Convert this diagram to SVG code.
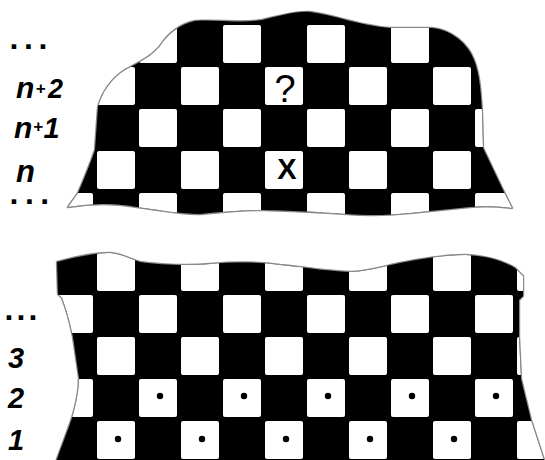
<svg xmlns="http://www.w3.org/2000/svg" xmlns:xlink="http://www.w3.org/1999/xlink" width="545" height="460" viewBox="0 0 545 460">
<style>
.edge{fill:none;stroke:#8a8a8a;stroke-width:2.4;stroke-linejoin:round}
.ink{fill:#000}
.w{fill:#fff}
.dot{fill:#000}
.lbl{font-family:"Liberation Sans",Arial,sans-serif;font-style:italic;font-weight:bold;fill:#000}
.dots{font-family:"Liberation Sans",Arial,sans-serif;font-weight:bold;font-size:32px;fill:#000}
.mark{font-family:"Liberation Sans",Arial,sans-serif;fill:#000;text-anchor:middle}
</style>
<defs>
<rect id="sq" width="38" height="38" rx="2"/>
<path id="outlineTop" d="M68,207 L78,193 Q88,170 95,150 L98,107 C102,92 112,78 125,70 C140,62 152,56 160,46 C168,34 180,24 195,21 C215,19 240,24 262,20 C280,16 295,11 310,12 C335,15 360,26 390,28 L432,28 C452,30 468,44 474,60 C480,75 481,95 482,112 L483,148 L503,190 L512,208 C495,206 480,206 470,207 C450,209 430,211 410,213 C390,215 370,216 347,214 C320,212 300,211 263,210 C240,210 222,212 200,214 C180,214 160,210 137,207 C120,204 100,202 68,207 Z"/>
<path id="outlineBottom" d="M57,262 C75,257 95,253 110,253 C122,254 130,259 140,262 C160,265 190,266 210,264 C235,262 260,262 280,265 C310,268 335,272 352,272 C370,271 385,266 400,263 C420,259 445,255 465,255 C490,256 505,262 515,268 L523,276 L523,296 L519,300 L519,337 L521,379 L531,420 L544,460 L546,472 L50,472 L56,462 C62,445 68,430 72,418 C76,405 79,390 79,378 C77,365 75,350 73,337 C70,322 66,308 62,298 L58,294 Z"/>
<clipPath id="clipTop"><use xlink:href="#outlineTop"/></clipPath>
<clipPath id="clipBottom"><use xlink:href="#outlineBottom"/></clipPath>
</defs>
<rect width="545" height="460" fill="#fff"/>

<g id="board-top">
<use xlink:href="#outlineTop" class="edge"/>
<g clip-path="url(#clipTop)">
<rect class="ink" x="40" y="0" width="490" height="240"/>
<g class="w">
<use xlink:href="#sq" x="55" y="25"/><use xlink:href="#sq" x="139" y="25"/><use xlink:href="#sq" x="223" y="25"/><use xlink:href="#sq" x="307" y="25"/><use xlink:href="#sq" x="391" y="25"/><use xlink:href="#sq" x="475" y="25"/>
<use xlink:href="#sq" x="97" y="67"/><use xlink:href="#sq" x="181" y="67"/><use xlink:href="#sq" x="265" y="67"/><use xlink:href="#sq" x="349" y="67"/><use xlink:href="#sq" x="433" y="67"/>
<use xlink:href="#sq" x="55" y="109"/><use xlink:href="#sq" x="139" y="109"/><use xlink:href="#sq" x="223" y="109"/><use xlink:href="#sq" x="307" y="109"/><use xlink:href="#sq" x="391" y="109"/><use xlink:href="#sq" x="475" y="109"/>
<use xlink:href="#sq" x="97" y="151"/><use xlink:href="#sq" x="181" y="151"/><use xlink:href="#sq" x="265" y="151"/><use xlink:href="#sq" x="349" y="151"/><use xlink:href="#sq" x="433" y="151"/>
<use xlink:href="#sq" x="55" y="193"/><use xlink:href="#sq" x="139" y="193"/><use xlink:href="#sq" x="223" y="193"/><use xlink:href="#sq" x="307" y="193"/><use xlink:href="#sq" x="391" y="193"/><use xlink:href="#sq" x="475" y="193"/>
</g>
</g>
</g>

<g id="board-bottom">
<use xlink:href="#outlineBottom" class="edge"/>
<g clip-path="url(#clipBottom)">
<rect class="ink" x="40" y="240" width="510" height="230"/>
<g class="w">
<use xlink:href="#sq" x="97" y="253"/><use xlink:href="#sq" x="181" y="253"/><use xlink:href="#sq" x="265" y="253"/><use xlink:href="#sq" x="349" y="253"/><use xlink:href="#sq" x="433" y="253"/><use xlink:href="#sq" x="517" y="253"/>
<use xlink:href="#sq" x="55" y="295"/><use xlink:href="#sq" x="139" y="295"/><use xlink:href="#sq" x="223" y="295"/><use xlink:href="#sq" x="307" y="295"/><use xlink:href="#sq" x="391" y="295"/><use xlink:href="#sq" x="475" y="295"/>
<use xlink:href="#sq" x="97" y="337"/><use xlink:href="#sq" x="181" y="337"/><use xlink:href="#sq" x="265" y="337"/><use xlink:href="#sq" x="349" y="337"/><use xlink:href="#sq" x="433" y="337"/><use xlink:href="#sq" x="517" y="337"/>
<use xlink:href="#sq" x="55" y="379"/><use xlink:href="#sq" x="139" y="379"/><use xlink:href="#sq" x="223" y="379"/><use xlink:href="#sq" x="307" y="379"/><use xlink:href="#sq" x="391" y="379"/><use xlink:href="#sq" x="475" y="379"/>
<use xlink:href="#sq" x="97" y="421"/><use xlink:href="#sq" x="181" y="421"/><use xlink:href="#sq" x="265" y="421"/><use xlink:href="#sq" x="349" y="421"/><use xlink:href="#sq" x="433" y="421"/><use xlink:href="#sq" x="517" y="421"/>
</g>
</g>
</g>

<g id="marks">
<text class="mark" x="285" y="102" font-size="38">?</text>
<text class="mark" x="287" y="179" font-size="29" font-weight="bold">X</text>
</g>

<g id="pieces">
<circle class="dot" cx="160" cy="396" r="3.2"/><circle class="dot" cx="244" cy="396" r="3.2"/><circle class="dot" cx="328" cy="396" r="3.2"/><circle class="dot" cx="412" cy="396" r="3.2"/><circle class="dot" cx="496" cy="396" r="3.2"/>
<circle class="dot" cx="118" cy="439" r="3.2"/><circle class="dot" cx="202" cy="439" r="3.2"/><circle class="dot" cx="286" cy="439" r="3.2"/><circle class="dot" cx="370" cy="439" r="3.2"/><circle class="dot" cx="454" cy="439" r="3.2"/>
</g>

<g id="labels-top">
<text class="dots" x="9.5" y="48.5" letter-spacing="5.6">...</text>
<text class="lbl" x="16" y="98"><tspan font-size="30">n</tspan><tspan x="35.5" y="94" font-size="17">+</tspan><tspan x="48" y="98" font-size="27">2</tspan></text>
<text class="lbl" x="14" y="138"><tspan font-size="30">n</tspan><tspan x="33" y="132" font-size="17">+</tspan><tspan x="43.5" y="138" font-size="29">1</tspan></text>
<text class="lbl" x="16" y="182" font-size="31">n</text>
<text class="dots" x="9.5" y="203.5" letter-spacing="6.5">...</text>
</g>

<g id="labels-bottom">
<text class="dots" x="4.5" y="319.5" letter-spacing="3.1">...</text>
<text class="lbl" x="8" y="368" font-size="29">3</text>
<text class="lbl" x="8" y="408" font-size="29">2</text>
<text class="lbl" x="8" y="450" font-size="29">1</text>
</g>
</svg>
